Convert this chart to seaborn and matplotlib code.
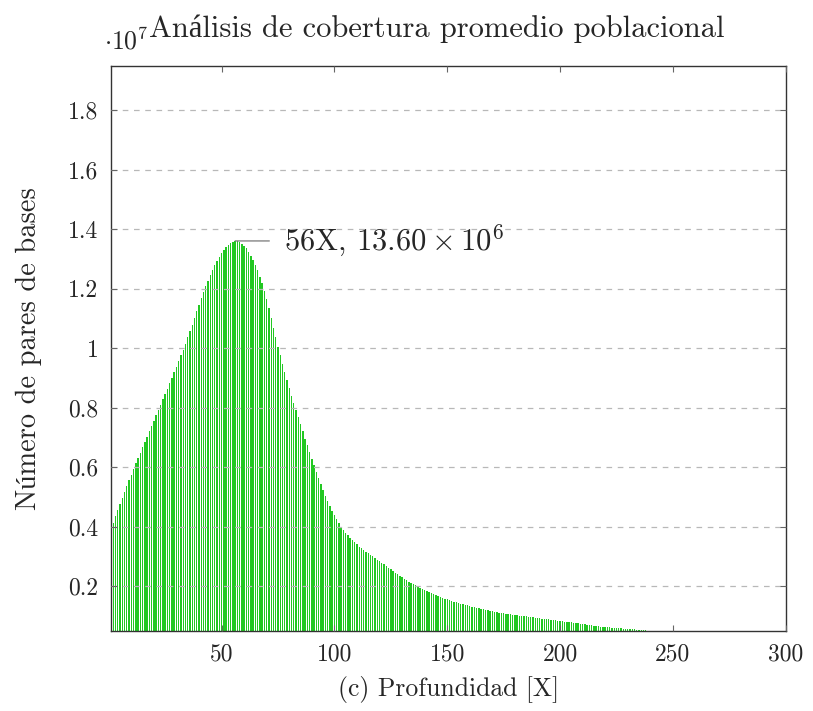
import numpy as np
import pandas as pd
import matplotlib
matplotlib.use("Agg")
import matplotlib.pyplot as plt
import seaborn as sns
from matplotlib.ticker import FixedLocator, FixedFormatter

# Coverage depth (X) and number of base pairs at each depth, in millions
depth = list(range(1, 301))
bp_millions = [
    3.90, 4.12, 4.34, 4.55, 4.76, 4.96, 5.16, 5.36, 5.55, 5.74,
    5.93, 6.12, 6.30, 6.48, 6.66, 6.84, 7.02, 7.20, 7.38, 7.56,
    7.74, 7.92, 8.10, 8.28, 8.46, 8.64, 8.82, 9.00, 9.18, 9.37,
    9.56, 9.75, 9.95, 10.15, 10.36, 10.57, 10.79, 11.01, 11.23, 11.45,
    11.67, 11.88, 12.08, 12.27, 12.45, 12.62, 12.78, 12.93, 13.06, 13.18,
    13.29, 13.38, 13.46, 13.52, 13.57, 13.60, 13.59, 13.56, 13.51, 13.44,
    13.35, 13.24, 13.11, 12.96, 12.79, 12.61, 12.40, 12.17, 11.93, 11.64,
    11.33, 11.01, 10.68, 10.36, 10.05, 9.75, 9.46, 9.18, 8.91, 8.65,
    8.40, 8.16, 7.92, 7.68, 7.44, 7.20, 6.96, 6.73, 6.50, 6.28,
    6.06, 5.84, 5.63, 5.43, 5.23, 5.04, 4.86, 4.69, 4.53, 4.38,
    4.24, 4.11, 3.99, 3.88, 3.79, 3.70, 3.62, 3.54, 3.47, 3.40,
    3.33, 3.27, 3.21, 3.15, 3.10, 3.05, 3.00, 2.95, 2.89, 2.84,
    2.78, 2.73, 2.67, 2.62, 2.56, 2.51, 2.45, 2.40, 2.35, 2.30,
    2.25, 2.20, 2.15, 2.10, 2.06, 2.02, 1.98, 1.94, 1.90, 1.87,
    1.83, 1.80, 1.76, 1.73, 1.70, 1.67, 1.64, 1.61, 1.58, 1.56,
    1.53, 1.51, 1.48, 1.46, 1.43, 1.41, 1.39, 1.37, 1.35, 1.33,
    1.31, 1.29, 1.27, 1.25, 1.24, 1.22, 1.20, 1.19, 1.17, 1.16,
    1.14, 1.13, 1.11, 1.10, 1.09, 1.07, 1.06, 1.05, 1.04, 1.03,
    1.02, 1.01, 1.00, 0.99, 0.98, 0.97, 0.96, 0.95, 0.94, 0.93,
    0.92, 0.91, 0.90, 0.89, 0.88, 0.875, 0.864, 0.853, 0.842, 0.831,
    0.820, 0.809, 0.798, 0.787, 0.776, 0.765, 0.754, 0.743, 0.732, 0.721,
    0.710, 0.699, 0.688, 0.677, 0.666, 0.655, 0.644, 0.633, 0.627, 0.621,
    0.614, 0.608, 0.602, 0.596, 0.590, 0.583, 0.577, 0.571, 0.565, 0.559,
    0.553, 0.547, 0.541, 0.535, 0.529, 0.523, 0.517, 0.511, 0.505, 0.499,
    0.493, 0.487, 0.481, 0.475, 0.469, 0.463, 0.457, 0.451, 0.446, 0.441,
    0.436, 0.431, 0.426, 0.421, 0.416, 0.411, 0.406, 0.401, 0.397, 0.393,
    0.389, 0.385, 0.381, 0.377, 0.373, 0.369, 0.365, 0.361, 0.357, 0.353,
    0.349, 0.345, 0.341, 0.337, 0.333, 0.329, 0.325, 0.321, 0.317, 0.313,
    0.309, 0.305, 0.301, 0.297, 0.293, 0.289, 0.285, 0.281, 0.277, 0.273,
    0.269, 0.265, 0.261, 0.257, 0.253, 0.249, 0.245, 0.241, 0.237, 0.233,
]

x_ticks = [50, 100, 150, 200, 250, 300]
y_ticks = [0.2, 0.4, 0.6, 0.8, 1.0, 1.2, 1.4, 1.6, 1.8]          # in units of 10^7
y_tick_labels = ["0.2", "0.4", "0.6", "0.8", "1", "1.2", "1.4", "1.6", "1.8"]

title = "Análisis de cobertura promedio poblacional"
x_label = "(c) Profundidad [X]"
y_label = "Número de pares de bases"

df = pd.DataFrame({"depth": depth, "bp": np.array(bp_millions) * 1e6})

sns.set_style("white")
plt.rcParams["font.family"] = ["cmr10", "Liberation Serif"]
plt.rcParams["mathtext.fontset"] = "cm"
plt.rcParams["axes.unicode_minus"] = False
plt.rcParams["axes.formatter.use_mathtext"] = True

FS_TICK = 17
FS_BIG = 22
W, H = 813, 711
fig = plt.figure(figsize=(W / 100, H / 100), dpi=100)
left, right, bottom, top = 111 / W, 785.7 / W, 1 - 631 / H, 1 - 66 / H
ax = fig.add_axes([left, bottom, right - left, top - bottom])

sns.barplot(data=df, x="depth", y="bp", native_scale=True, ax=ax,
            color="#22c822", saturation=1, width=0.62, errorbar=None,
            linewidth=0)

ax.set_xlim(1, 300)
ax.set_ylim(0.049e7, 1.948e7)

ax.xaxis.set_major_locator(FixedLocator(x_ticks))
ax.set_xticklabels([str(v) for v in x_ticks])
ax.yaxis.set_major_locator(FixedLocator([v * 1e7 for v in y_ticks]))
ax.yaxis.set_major_formatter(FixedFormatter(y_tick_labels))

ax.tick_params(axis="both", which="major", direction="in", length=4, width=0.8,
               color="#666666", labelsize=FS_TICK, top=True, right=True,
               bottom=True, left=True)
ax.tick_params(axis="x", pad=9)
ax.tick_params(axis="y", pad=9)

ax.yaxis.grid(True, linestyle=(0, (4.5, 4.5)), color="#b8b8b8", linewidth=0.9)
ax.xaxis.grid(False)
ax.set_axisbelow(False)

for sp in ax.spines.values():
    sp.set_color("#333333")
    sp.set_linewidth(1.0)

ax.set_xlabel(x_label, fontsize=18.5)
ax.xaxis.set_label_coords(0.5, -(676 - 631) / (631 - 66))
ax.set_ylabel(y_label, fontsize=20.5)
ax.yaxis.set_label_coords(-(111 - 42) / (785.7 - 111), 0.5)

# Peak annotation
peak_i = int(np.argmax(df["bp"].values))
peak_x = df["depth"].iloc[peak_i]
peak_y = df["bp"].iloc[peak_i]
ax.annotate(f"{peak_x}X, $ {peak_y / 1e6:.2f} \\times 10^{{6}}$",
            xy=(peak_x, peak_y), xytext=(35, 0), textcoords="offset points",
            ha="left", va="center", fontsize=FS_BIG,
            arrowprops=dict(arrowstyle="-", color="#777777", lw=0.9,
                            shrinkA=8, shrinkB=0))

fig.text(437 / W, 1 - 29 / H, title, ha="center", va="center",
         fontsize=FS_BIG)
# Common factor of the y axis, written as a TeX-style multiplier
fig.text(104 / W, 1 - 50 / H, r"$\cdot\mathrm{10}^{7}$", ha="left",
         va="baseline", fontsize=18.5)

fig.savefig("out.png", dpi=100)
